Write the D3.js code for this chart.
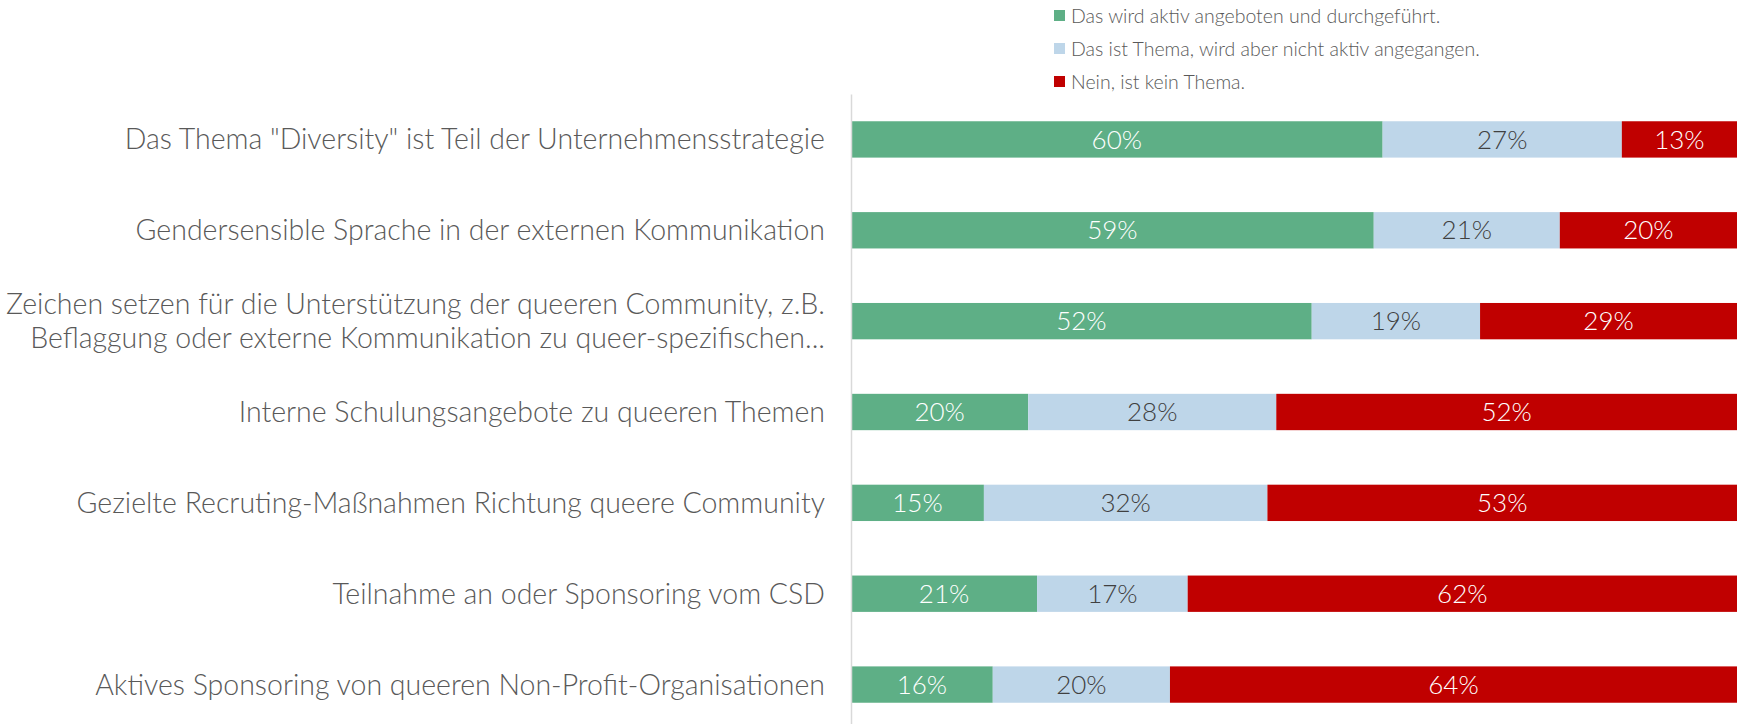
<!DOCTYPE html>
<html>
<head>
<meta charset="utf-8">
<script src="https://cdn.jsdelivr.net/npm/d3@7"></script>
<style>
  body { margin: 0; background: #fff; }
  svg { display: block; font-family: Lato, "Open Sans", sans-serif; font-weight: 300; }
</style>
</head>
<body>
<svg id="chart" width="1744" height="724"></svg>
<script>
  'use strict';

  var categories = [
    'Das Thema "Diversity" ist Teil der Unternehmensstrategie',
    'Gendersensible Sprache in der externen Kommunikation',
    'Zeichen setzen für die Unterstützung der queeren Community, z.B.\nBeflaggung oder externe Kommunikation zu queer-spezifischen...',
    'Interne Schulungsangebote zu queeren Themen',
    'Gezielte Recruting-Maßnahmen Richtung queere Community',
    'Teilnahme an oder Sponsoring vom CSD',
    'Aktives Sponsoring von queeren Non-Profit-Organisationen'
  ];

  var seriesNames = [
    'Das wird aktiv angeboten und durchgeführt.',
    'Das ist Thema, wird aber nicht aktiv angegangen.',
    'Nein, ist kein Thema.'
  ];

  var aktiv = [60, 59, 52, 20, 15, 21, 16];
  var thema = [27, 21, 19, 28, 32, 17, 20];
  var nein = [13, 20, 29, 52, 53, 62, 64];

  var colors = ['#5eaf86', '#bed6e9', '#c00000'];
  var labelColors = ['#ffffff', '#404040', '#ffffff'];

  var svg = d3.select('#chart');

  var x = d3.scaleLinear().domain([0, 100]).range([851, 1737]);
  var y = d3.scaleBand()
    .domain(d3.range(categories.length))
    .range([94, 730])
    .paddingInner(0.6)
    .paddingOuter(0.3);

  var rows = categories.map(function(c, i) {
    return {aktiv: aktiv[i], thema: thema[i], nein: nein[i]};
  });
  var stack = d3.stack().keys(['aktiv', 'thema', 'nein'])(rows);

  // bars
  var layers = svg.append('g').selectAll('g')
    .data(stack)
    .join('g')
    .attr('fill', function(d, k) { return colors[k]; });

  layers.selectAll('rect')
    .data(function(d) { return d; })
    .join('rect')
    .attr('x', function(d) { return x(d[0]); })
    .attr('y', function(d, i) { return y(i); })
    .attr('width', function(d) { return x(d[1]) - x(d[0]); })
    .attr('height', y.bandwidth());

  layers.selectAll('text')
    .data(function(d) { return d; })
    .join('text')
    .attr('x', function(d) { return (x(d[0]) + x(d[1])) / 2; })
    .attr('y', function(d, i) { return y(i) + y.bandwidth() / 2; })
    .attr('dy', '0.35em')
    .attr('text-anchor', 'middle')
    .attr('font-size', 26)
    .attr('fill', function() { return labelColors[d3.select(this.parentNode).datum().index]; })
    .text(function(d) { return (d[1] - d[0]) + '%'; });

  // vertical axis line
  var axis = svg.append('g')
    .attr('transform', 'translate(' + x(0) + ',0)')
    .call(d3.axisLeft(y).tickSize(0).tickFormat(''));
  axis.select('.domain').attr('stroke', '#d9d9d9').attr('stroke-width', 1.5);

  // category labels
  var labels = svg.append('g').selectAll('text')
    .data(categories)
    .join('text')
    .attr('x', 825)
    .attr('y', function(d, i) { return y(i) + y.bandwidth() / 2; })
    .attr('text-anchor', 'end')
    .attr('font-size', 28.5)
    .attr('fill', '#595959');

  labels.each(function(d) {
    var lines = d.split('\n');
    var el = d3.select(this);
    lines.forEach(function(line, j) {
      el.append('tspan')
        .attr('x', 825)
        .attr('dy', j === 0 ? (0.35 - (lines.length - 1) * 0.59) + 'em' : '1.18em')
        .text(line);
    });
  });

  // legend
  var legend = svg.append('g').selectAll('g')
    .data(seriesNames)
    .join('g')
    .attr('transform', function(d, i) { return 'translate(1054,' + (16 + i * 33) + ')'; });

  legend.append('rect')
    .attr('x', 0)
    .attr('y', -6)
    .attr('width', 11)
    .attr('height', 11)
    .attr('fill', function(d, i) { return colors[i]; });

  legend.append('text')
    .attr('x', 17)
    .attr('dy', '0.35em')
    .attr('font-size', 19.5)
    .attr('fill', '#595959')
    .text(function(d) { return d; });
</script>
</body>
</html>
